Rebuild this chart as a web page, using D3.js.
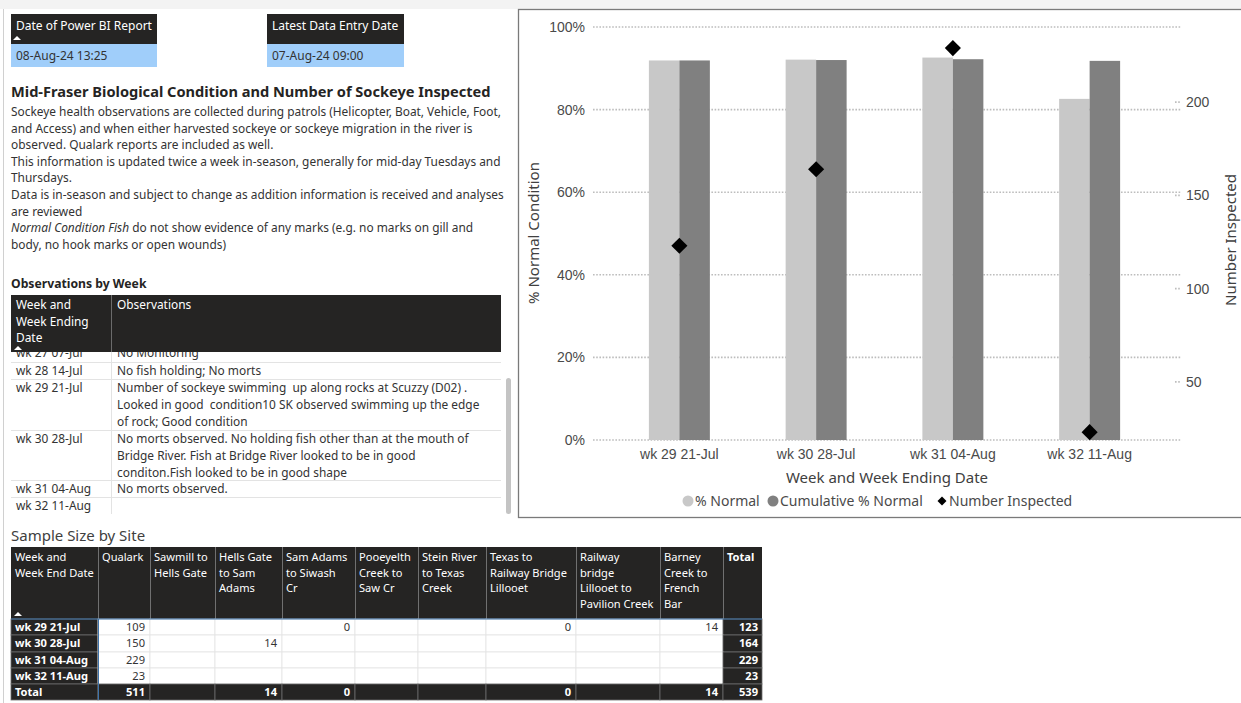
<!DOCTYPE html>
<html lang="en">
<head>
<meta charset="UTF-8">
<title>Mid-Fraser Biological Condition</title>
<style>
    body { margin: 0; background: #fff; }
    svg { display: block; font-family: "Segoe UI", "Noto Sans", sans-serif; }
    svg text { white-space: pre; }
    .grid line { stroke: #bdbdbd; stroke-width: 1.6px; stroke-dasharray: 1.6 1.6; }
    .tick-label { font-size: 14px; fill: #4a4a4a; }
    .axis-title { font-size: 15px; fill: #404040; }
</style>
</head>
<body>
<svg id="page" width="1241" height="703"></svg>
<script src="https://d3js.org/d3.v7.min.js"></script>
<script>
// ---- chart data ----
const weeks = ['wk 29 21-Jul', 'wk 30 28-Jul', 'wk 31 04-Aug', 'wk 32 11-Aug'];
const pctNormal = [91.9, 92.1, 92.6, 82.6];
const cumPctNormal = [91.9, 92.0, 92.2, 91.8];
const numberInspected = [123, 164, 229, 23];
const pctTicks = [0, 20, 40, 60, 80, 100];
const countTicks = [50, 100, 150, 200];
const countDomain = [18.8, 240.3];

// ---- report header ----
const reportDate = '08-Aug-24 13:25';
const entryDate = '07-Aug-24 09:00';
const title = 'Mid-Fraser Biological Condition and Number of Sockeye Inspected';
const introLines = [
    ['Sockeye health observations are collected during patrols (Helicopter, Boat, Vehicle, Foot,'],
    ['and Access) and when either harvested sockeye or sockeye migration in the river is'],
    ['observed. Qualark reports are included as well.'],
    ['This information is updated twice a week in-season, generally for mid-day Tuesdays and'],
    ['Thursdays.'],
    ['Data is in-season and subject to change as addition information is received and analyses'],
    ['are reviewed'],
    ['Normal Condition Fish', ' do not show evidence of any marks (e.g. no marks on gill and'],
    ['body, no hook marks or open wounds)']
];

// ---- observations table ----
const obsWeeks = ['wk 27 07-Jul', 'wk 28 14-Jul', 'wk 29 21-Jul', 'wk 30 28-Jul', 'wk 31 04-Aug', 'wk 32 11-Aug'];
const obsText = [
    ['No Monitoring'],
    ['No fish holding; No morts'],
    ['Number of sockeye swimming  up along rocks at Scuzzy (D02) .',
     'Looked in good  condition10 SK observed swimming up the edge',
     'of rock; Good condition'],
    ['No morts observed. No holding fish other than at the mouth of',
     'Bridge River. Fish at Bridge River looked to be in good',
     'conditon.Fish looked to be in good shape'],
    ['No morts observed.'],
    ['']
];

// ---- sample size table ----
const sites = [
    ['Qualark'], ['Sawmill to', 'Hells Gate'], ['Hells Gate', 'to Sam', 'Adams'],
    ['Sam Adams', 'to Siwash', 'Cr'], ['Pooeyelth', 'Creek to', 'Saw Cr'],
    ['Stein River', 'to Texas', 'Creek'], ['Texas to', 'Railway Bridge', 'Lillooet'],
    ['Railway', 'bridge', 'Lillooet to', 'Pavilion Creek'], ['Barney', 'Creek to', 'French', 'Bar']
];
const sampleWeeks = ['wk 29 21-Jul', 'wk 30 28-Jul', 'wk 31 04-Aug', 'wk 32 11-Aug'];
const sampleCounts = [
    [109, null, null, 0, null, null, 0, null, 14],
    [150, null, 14, null, null, null, null, null, null],
    [229, null, null, null, null, null, null, null, null],
    [23, null, null, null, null, null, null, null, null]
];

const svg = d3.select('#page');
const dark = '#252423';
const blue = '#a0cefa';
const txt = '#333';

// page chrome
svg.append('rect').attr('x', 0).attr('y', 0).attr('width', 1241).attr('height', 9).attr('fill', '#f3f3f3');
svg.append('line').attr('x1', 3.5).attr('x2', 3.5).attr('y1', 9).attr('y2', 703).attr('stroke', '#d0d0d0');

function sortArrow(x, y) {
    svg.append('path').attr('d', `M${x - 4},${y} L${x},${y - 4} L${x + 4},${y} Z`).attr('fill', '#fff');
}

// ---- header cards ----
function card(x, w, head, value) {
    svg.append('rect').attr('x', x).attr('y', 14).attr('width', w).attr('height', 30).attr('fill', dark);
    svg.append('text').attr('x', x + 5).attr('y', 30).attr('fill', '#fff').attr('font-size', 12).text(head);
    svg.append('rect').attr('x', x).attr('y', 44).attr('width', w).attr('height', 23).attr('fill', blue);
    svg.append('text').attr('x', x + 5).attr('y', 60).attr('fill', txt).attr('font-size', 12).text(value);
}
card(11, 146, 'Date of Power BI Report', reportDate);
card(267, 137, 'Latest Data Entry Date', entryDate);
sortArrow(17, 40);

// ---- intro text ----
svg.append('text').attr('x', 11).attr('y', 97).attr('font-size', 14.6).attr('font-weight', 'bold')
    .attr('fill', dark).text(title);
introLines.forEach((parts, i) => {
    const t = svg.append('text').attr('x', 11).attr('y', 116 + i * 16.6).attr('font-size', 11.9).attr('fill', txt);
    if (parts.length === 2) {
        t.append('tspan').attr('font-style', 'italic').text(parts[0]);
        t.append('tspan').text(parts[1]);
    } else {
        t.text(parts[0]);
    }
});

// ---- observations table ----
svg.append('text').attr('x', 11).attr('y', 288).attr('font-size', 12.2).attr('font-weight', 'bold')
    .attr('fill', dark).text('Observations by Week');

const obsX0 = 11, obsX1 = 501, obsDiv = 111;
const obsRowTops = [344, 362, 379, 430, 480, 497];
const obsRowH = [18, 17, 51, 50, 17, 17];
const obsG = svg.append('g');
obsWeeks.forEach((wk, i) => {
    const top = obsRowTops[i];
    obsG.append('text').attr('x', 16).attr('y', top + 13).attr('font-size', 11.9).attr('fill', txt).text(wk);
    obsText[i].forEach((line, j) => {
        obsG.append('text').attr('x', 117).attr('y', top + 13 + j * 16.8).attr('font-size', 11.9)
            .attr('fill', txt).text(line);
    });
    if (i < obsWeeks.length - 1) {
        obsG.append('line').attr('x1', obsX0).attr('x2', obsX1)
            .attr('y1', top + obsRowH[i] + 0.5).attr('y2', top + obsRowH[i] + 0.5)
            .attr('stroke', '#e3e3e3');
    }
});
obsG.append('line').attr('x1', obsDiv + 0.5).attr('x2', obsDiv + 0.5).attr('y1', 352).attr('y2', 514)
    .attr('stroke', '#e3e3e3');
// header drawn over the partly scrolled row
svg.append('rect').attr('x', obsX0).attr('y', 295).attr('width', obsX1 - obsX0).attr('height', 57).attr('fill', dark);
svg.append('line').attr('x1', obsDiv + 0.5).attr('x2', obsDiv + 0.5).attr('y1', 295).attr('y2', 352).attr('stroke', '#6b6b6b');
['Week and', 'Week Ending', 'Date'].forEach((l, j) => {
    svg.append('text').attr('x', 16).attr('y', 309 + j * 16.6).attr('font-size', 11.9).attr('fill', '#fff').text(l);
});
svg.append('text').attr('x', 117).attr('y', 309).attr('font-size', 11.9).attr('fill', '#fff').text('Observations');
sortArrow(18, 350);
// scrollbar
svg.append('rect').attr('x', 506).attr('y', 378).attr('width', 5).attr('height', 136).attr('rx', 2.5)
    .attr('fill', '#c4c4c4');

// ---- sample size table ----
svg.append('text').attr('x', 11).attr('y', 541).attr('font-size', 15).attr('fill', '#404040').text('Sample Size by Site');
const colEdges = [11, 98, 150, 215, 282, 355, 418, 486, 576, 660, 723, 762];
const rowEdges = [619, 635, 652, 668, 684, 700];
const headTop = 547, headBot = 619;
const fs = 11.1;
svg.append('rect').attr('x', 11).attr('y', headTop).attr('width', 751).attr('height', headBot - headTop).attr('fill', dark);
const headers = [['Week and', 'Week End Date']].concat(sites).concat([['Total']]);
headers.forEach((lines, c) => {
    lines.forEach((l, j) => {
        svg.append('text').attr('x', colEdges[c] + 4).attr('y', headTop + 14 + j * 15.7)
            .attr('font-size', fs).attr('fill', '#fff')
            .attr('font-weight', c === headers.length - 1 ? 'bold' : 'normal').text(l);
    });
    if (c > 0) {
        svg.append('line').attr('x1', colEdges[c] + 0.5).attr('x2', colEdges[c] + 0.5)
            .attr('y1', headTop).attr('y2', headBot).attr('stroke', '#707070');
    }
});
sortArrow(18, 616);

const rowTotals = sampleCounts.map(r => d3.sum(r.filter(v => v !== null)));
const colTotals = sites.map((s, c) => {
    const vals = sampleCounts.map(r => r[c]).filter(v => v !== null);
    return vals.length ? d3.sum(vals) : null;
});
const grandTotal = d3.sum(rowTotals);

function bodyRow(r, label, values, total, isTotal) {
    const y0 = rowEdges[r], y1 = rowEdges[r + 1];
    // row header
    svg.append('rect').attr('x', 11).attr('y', y0).attr('width', colEdges[1] - 11).attr('height', y1 - y0)
        .attr('fill', dark).attr('stroke', '#6b6b6b').attr('stroke-width', 0.8);
    svg.append('text').attr('x', 15).attr('y', y0 + 12).attr('font-size', fs).attr('font-weight', 'bold')
        .attr('fill', '#fff').text(label);
    values.forEach((v, c) => {
        const x0 = colEdges[c + 1], x1 = colEdges[c + 2];
        svg.append('rect').attr('x', x0).attr('y', y0).attr('width', x1 - x0).attr('height', y1 - y0)
            .attr('fill', isTotal ? dark : '#fff').attr('stroke', isTotal ? '#6b6b6b' : '#e3e3e3')
            .attr('stroke-width', 0.8);
        if (v !== null) {
            svg.append('text').attr('x', x1 - 5).attr('y', y0 + 12).attr('text-anchor', 'end')
                .attr('font-size', fs).attr('font-weight', isTotal ? 'bold' : 'normal')
                .attr('fill', isTotal ? '#fff' : txt).text(v);
        }
    });
    const tx0 = colEdges[colEdges.length - 2], tx1 = colEdges[colEdges.length - 1];
    svg.append('rect').attr('x', tx0).attr('y', y0).attr('width', tx1 - tx0).attr('height', y1 - y0)
        .attr('fill', dark).attr('stroke', '#6b6b6b').attr('stroke-width', 0.8);
    svg.append('text').attr('x', tx1 - 4).attr('y', y0 + 12).attr('text-anchor', 'end')
        .attr('font-size', fs).attr('font-weight', 'bold').attr('fill', '#fff').text(total);
}
sampleWeeks.forEach((wk, r) => bodyRow(r, wk, sampleCounts[r], rowTotals[r], false));
bodyRow(4, 'Total', colTotals, grandTotal, true);
svg.append('line').attr('x1', 11).attr('x2', 762).attr('y1', headBot).attr('y2', headBot).attr('stroke', '#3f74ab');
svg.append('line').attr('x1', 98.5).attr('x2', 98.5).attr('y1', headBot).attr('y2', 700).attr('stroke', '#3f74ab');

// ---- combo chart ----
svg.append('rect').attr('x', 518.5).attr('y', 9.5).attr('width', 724).attr('height', 508)
    .attr('fill', '#fff').attr('stroke', '#7a7a7a').attr('stroke-width', 1.3);

const x = d3.scaleBand().domain(weeks).range([611, 1158]).paddingInner(0.554).paddingOuter(0.277);
const xSub = d3.scaleBand().domain(['pct', 'cum']).range([0, x.bandwidth()]);
const y = d3.scaleLinear().domain([0, 100]).range([440, 27]);
const y2 = d3.scaleLinear().domain(countDomain).range([440, 27]);

const grid = svg.append('g').attr('class', 'grid');
grid.selectAll('line').data(pctTicks).enter().append('line')
    .attr('x1', 593).attr('x2', 1181).attr('y1', d => y(d)).attr('y2', d => y(d));
svg.append('g').attr('class', 'grid').selectAll('line').data(countTicks).enter().append('line')
    .attr('x1', 1175).attr('x2', 1181).attr('y1', d => y2(d)).attr('y2', d => y2(d));

// left axis labels
const yAxis = d3.axisLeft(y).tickValues(pctTicks).tickFormat(d => d + '%').tickSize(0).tickPadding(0);
const gy = svg.append('g').attr('transform', 'translate(585,0)').call(yAxis);
gy.select('.domain').remove();
gy.selectAll('text').attr('class', 'tick-label').attr('font-family', null).attr('font-size', null);

const y2Axis = d3.axisRight(y2).tickValues(countTicks).tickSize(0).tickPadding(0);
const gy2 = svg.append('g').attr('transform', 'translate(1186,0)').call(y2Axis);
gy2.select('.domain').remove();
gy2.selectAll('text').attr('class', 'tick-label').attr('font-family', null).attr('font-size', null);

const xAxis = d3.axisBottom(x).tickSize(0).tickPadding(0);
const gx = svg.append('g').attr('transform', 'translate(0,448)').call(xAxis);
gx.select('.domain').remove();
gx.selectAll('text').attr('class', 'tick-label').attr('font-family', null).attr('font-size', null)
    .attr('dy', '0.75em');

// bars
const barColors = { pct: '#c8c8c8', cum: '#808080' };
const groups = svg.append('g').selectAll('g').data(weeks).enter().append('g')
    .attr('transform', d => `translate(${x(d)},0)`);
groups.append('rect')
    .attr('x', xSub('pct')).attr('width', xSub.bandwidth())
    .attr('y', (d, i) => y(pctNormal[i])).attr('height', (d, i) => y(0) - y(pctNormal[i]))
    .attr('fill', barColors.pct);
groups.append('rect')
    .attr('x', xSub('cum')).attr('width', xSub.bandwidth())
    .attr('y', (d, i) => y(cumPctNormal[i])).attr('height', (d, i) => y(0) - y(cumPctNormal[i]))
    .attr('fill', barColors.cum);

// number inspected markers
const diamond = d3.symbol().type(d3.symbolSquare).size(130);
svg.append('g').selectAll('path').data(weeks).enter().append('path')
    .attr('d', diamond)
    .attr('transform', (d, i) => `translate(${x(d) + x.bandwidth() / 2},${y2(numberInspected[i])}) rotate(45)`)
    .attr('fill', '#000');

// axis titles
svg.append('text').attr('class', 'axis-title').attr('text-anchor', 'middle')
    .attr('transform', 'translate(539,233) rotate(-90)').text('% Normal Condition');
svg.append('text').attr('class', 'axis-title').attr('text-anchor', 'middle')
    .attr('transform', 'translate(1236,240) rotate(-90)').text('Number Inspected');
svg.append('text').attr('class', 'axis-title').attr('text-anchor', 'middle')
    .attr('x', 887).attr('y', 483).text('Week and Week Ending Date');

// legend
const legend = svg.append('g').attr('transform', 'translate(683,501)');
const legendItems = [
    { label: '% Normal', kind: 'circle', color: barColors.pct, x: 5 },
    { label: 'Cumulative % Normal', kind: 'circle', color: barColors.cum, x: 90 },
    { label: 'Number Inspected', kind: 'diamond', color: '#000', x: 259 }
];
legendItems.forEach(it => {
    if (it.kind === 'circle') {
        legend.append('circle').attr('cx', it.x).attr('cy', 0).attr('r', 5.5).attr('fill', it.color);
    } else {
        legend.append('path').attr('d', d3.symbol().type(d3.symbolSquare).size(40)())
            .attr('transform', `translate(${it.x},0) rotate(45)`).attr('fill', it.color);
    }
    legend.append('text').attr('x', it.x + 7).attr('y', 5).attr('class', 'tick-label').text(it.label);
});
</script>
</body>
</html>
